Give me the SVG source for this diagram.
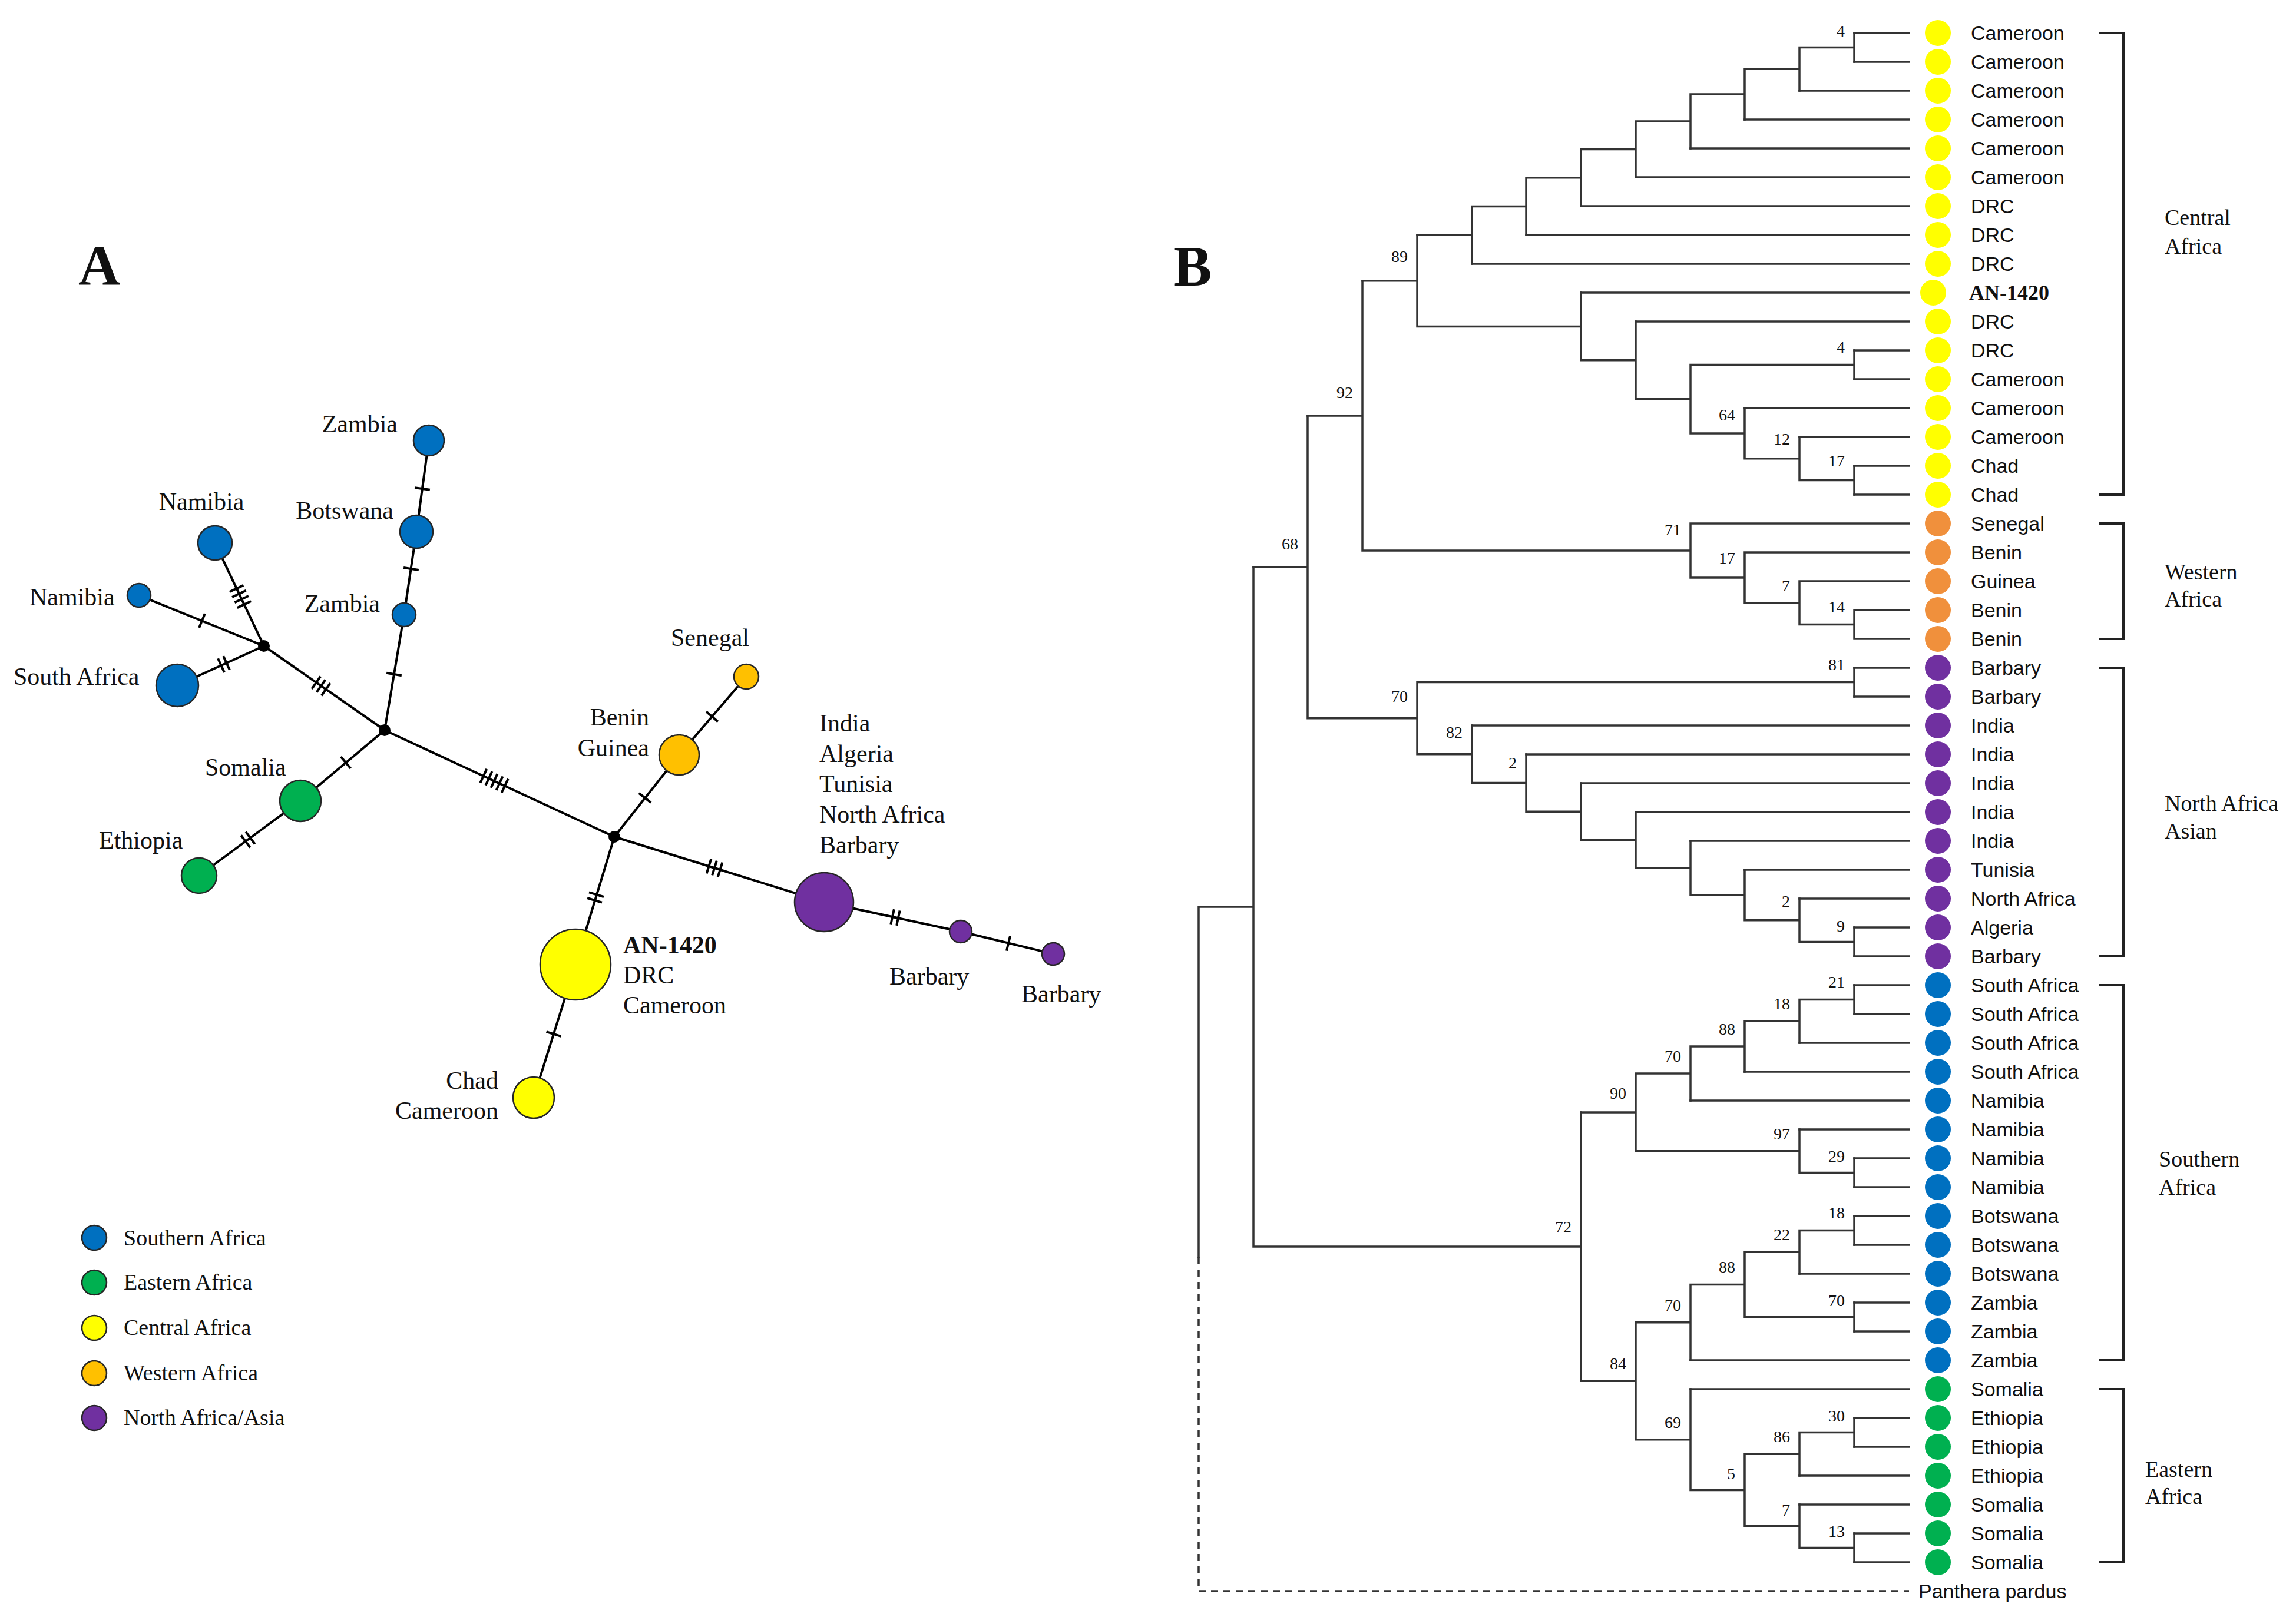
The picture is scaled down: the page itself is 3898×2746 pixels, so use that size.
<svg xmlns="http://www.w3.org/2000/svg" width="3898" height="2746" viewBox="0 0 3898 2746">
<defs>
<style>
.serif{font-family:"Liberation Serif","Times New Roman",serif;fill:#111}
.sans{font-family:"Liberation Sans",Arial,sans-serif;fill:#111}
.nl{font-size:42px}
.lg{font-size:38px}
.lf{font-size:34px}
.bs{font-size:28px;text-anchor:end}
.cl{font-size:38px}
.panel{font-size:98px;font-weight:bold}
.edge{stroke:#000;stroke-width:4;fill:none}
.tk line{stroke:#000;stroke-width:4}
.nc{stroke:#262626;stroke-width:2.5}
.br{stroke:#333;stroke-width:3.5;fill:none;stroke-linecap:square}
.brk{stroke:#222;stroke-width:4;fill:none}
.blue{fill:#0070C0}.green{fill:#00B050}.yellow{fill:#FFFF00}.orange{fill:#FFC000}.purple{fill:#7030A0}.torange{fill:#F0903C}
</style>
</defs>
<rect x="0" y="0" width="3898" height="2746" fill="#fff"/>

<!-- Panel labels -->
<text class="serif panel" x="133" y="483">A</text>
<text class="serif panel" x="1992" y="485">B</text>

<!-- ===== Panel A: network connectors ===== -->
<g id="network-edges">
<path class="edge" d="M728 748L707 903L686 1044L653 1240"/>
<path class="edge" d="M365 922L448 1097"/>
<path class="edge" d="M236 1011L448 1097"/>
<path class="edge" d="M301 1164L448 1097"/>
<path class="edge" d="M448 1097L653 1240"/>
<path class="edge" d="M338 1487L510 1360L653 1240"/>
<path class="edge" d="M653 1240L1043 1421"/>
<path class="edge" d="M1267 1149L1153 1282L1043 1421"/>
<path class="edge" d="M1043 1421L1399 1532L1631 1582L1788 1620"/>
<path class="edge" d="M1043 1421L977 1638L906 1864"/>
</g>
<g id="network-ticks" class="tk">
<g transform="translate(717 830) rotate(97.7)"><line x1="0" y1="-13" x2="0" y2="13"/></g>
<g transform="translate(698 966) rotate(98.5)"><line x1="0" y1="-13" x2="0" y2="13"/></g>
<g transform="translate(669 1145) rotate(99.6)"><line x1="0" y1="-13" x2="0" y2="13"/></g>
<g transform="translate(408 1013) rotate(64.6)"><line x1="-15" y1="-13" x2="-15" y2="13"/><line x1="-5" y1="-13" x2="-5" y2="13"/><line x1="5" y1="-13" x2="5" y2="13"/><line x1="15" y1="-13" x2="15" y2="13"/></g>
<g transform="translate(343 1054) rotate(22.1)"><line x1="0" y1="-13" x2="0" y2="13"/></g>
<g transform="translate(380 1128) rotate(-24.5)"><line x1="-5" y1="-13" x2="-5" y2="13"/><line x1="5" y1="-13" x2="5" y2="13"/></g>
<g transform="translate(545 1165) rotate(34.9)"><line x1="-10" y1="-13" x2="-10" y2="13"/><line x1="0" y1="-13" x2="0" y2="13"/><line x1="10" y1="-13" x2="10" y2="13"/></g>
<g transform="translate(587 1295) rotate(-40)"><line x1="0" y1="-13" x2="0" y2="13"/></g>
<g transform="translate(421 1426) rotate(-36.4)"><line x1="-5" y1="-13" x2="-5" y2="13"/><line x1="5" y1="-13" x2="5" y2="13"/></g>
<g transform="translate(839 1326) rotate(24.9)"><line x1="-20" y1="-13" x2="-20" y2="13"/><line x1="-10" y1="-13" x2="-10" y2="13"/><line x1="0" y1="-13" x2="0" y2="13"/><line x1="10" y1="-13" x2="10" y2="13"/><line x1="20" y1="-13" x2="20" y2="13"/></g>
<g transform="translate(1095 1355) rotate(128.4)"><line x1="0" y1="-13" x2="0" y2="13"/></g>
<g transform="translate(1209 1217) rotate(130.6)"><line x1="0" y1="-13" x2="0" y2="13"/></g>
<g transform="translate(1213 1474) rotate(17.3)"><line x1="-10" y1="-13" x2="-10" y2="13"/><line x1="0" y1="-13" x2="0" y2="13"/><line x1="10" y1="-13" x2="10" y2="13"/></g>
<g transform="translate(1011 1524) rotate(106.9)"><line x1="-5" y1="-13" x2="-5" y2="13"/><line x1="5" y1="-13" x2="5" y2="13"/></g>
<g transform="translate(940 1756) rotate(107.4)"><line x1="0" y1="-13" x2="0" y2="13"/></g>
<g transform="translate(1520 1558) rotate(12.2)"><line x1="-5" y1="-13" x2="-5" y2="13"/><line x1="5" y1="-13" x2="5" y2="13"/></g>
<g transform="translate(1712 1602) rotate(13.6)"><line x1="0" y1="-13" x2="0" y2="13"/></g>
</g>

<!-- ===== Panel A: network nodes ===== -->
<g id="n-junction1"><circle cx="448" cy="1097" r="10" fill="#000"/></g>
<g id="n-junction2"><circle cx="653" cy="1240" r="10" fill="#000"/></g>
<g id="n-junction3"><circle cx="1043" cy="1421" r="10" fill="#000"/></g>
<g id="n-zambia-top"><circle class="nc blue" cx="728" cy="748" r="26"/><text class="serif nl" x="675" y="734" text-anchor="end">Zambia</text></g>
<g id="n-botswana"><circle class="nc blue" cx="707" cy="903" r="28"/><text class="serif nl" x="668" y="881" text-anchor="end">Botswana</text></g>
<g id="n-zambia-mid"><circle class="nc blue" cx="686" cy="1044" r="20"/><text class="serif nl" x="645" y="1039" text-anchor="end">Zambia</text></g>
<g id="n-namibia-up"><circle class="nc blue" cx="365" cy="922" r="29"/><text class="serif nl" x="342" y="866" text-anchor="middle">Namibia</text></g>
<g id="n-namibia-left"><circle class="nc blue" cx="236" cy="1011" r="20"/><text class="serif nl" x="50" y="1028">Namibia</text></g>
<g id="n-south-africa"><circle class="nc blue" cx="301" cy="1164" r="36"/><text class="serif nl" x="23" y="1163">South Africa</text></g>
<g id="n-somalia"><circle class="nc green" cx="510" cy="1360" r="35"/><text class="serif nl" x="348" y="1317">Somalia</text></g>
<g id="n-ethiopia"><circle class="nc green" cx="338" cy="1487" r="30"/><text class="serif nl" x="168" y="1441">Ethiopia</text></g>
<g id="n-senegal"><circle class="nc orange" cx="1267" cy="1149" r="21"/><text class="serif nl" x="1139" y="1097">Senegal</text></g>
<g id="n-benin-guinea"><circle class="nc orange" cx="1153" cy="1282" r="34"/><text class="serif nl" x="1102" y="1232" text-anchor="end">Benin</text><text class="serif nl" x="1102" y="1284" text-anchor="end">Guinea</text></g>
<g id="n-northafrica"><circle class="nc purple" cx="1399" cy="1532" r="50"/>
<text class="serif nl" x="1391" y="1242">India</text><text class="serif nl" x="1391" y="1294">Algeria</text><text class="serif nl" x="1391" y="1345">Tunisia</text><text class="serif nl" x="1391" y="1397">North Africa</text><text class="serif nl" x="1391" y="1449">Barbary</text></g>
<g id="n-barbary1"><circle class="nc purple" cx="1631" cy="1582" r="19"/><text class="serif nl" x="1510" y="1672">Barbary</text></g>
<g id="n-barbary2"><circle class="nc purple" cx="1788" cy="1620" r="19"/><text class="serif nl" x="1734" y="1702">Barbary</text></g>
<g id="n-an1420"><circle class="nc yellow" cx="977" cy="1638" r="60"/><text class="serif nl" x="1058" y="1619" font-weight="bold">AN-1420</text><text class="serif nl" x="1058" y="1670">DRC</text><text class="serif nl" x="1058" y="1721">Cameroon</text></g>
<g id="n-chad"><circle class="nc yellow" cx="906" cy="1864" r="35"/><text class="serif nl" x="846" y="1849" text-anchor="end">Chad</text><text class="serif nl" x="846" y="1900" text-anchor="end">Cameroon</text></g>

<!-- Legend -->
<g id="legend">
<circle class="nc blue" cx="160" cy="2102" r="21"/><text class="serif lg" x="210" y="2115">Southern Africa</text>
<circle class="nc green" cx="160" cy="2178" r="21"/><text class="serif lg" x="210" y="2190">Eastern Africa</text>
<circle class="nc yellow" cx="160" cy="2255" r="21"/><text class="serif lg" x="210" y="2267">Central Africa</text>
<circle class="nc orange" cx="160" cy="2332" r="21"/><text class="serif lg" x="210" y="2344">Western Africa</text>
<circle class="nc purple" cx="160" cy="2408" r="21"/><text class="serif lg" x="210" y="2420">North Africa/Asia</text>
</g>

<!-- ===== Panel B: tree connectors ===== -->
<g id="tree-connectors" class="br">
<path d="M3148 56H3241M3148 105H3241M3055 154H3241M2962 203H3241M2870 252H3241M2777 301H3241M2684 350H3241M2591 399H3241M2499 448H3241M2684 497H3241M2777 546H3241M3148 595H3241M3148 644H3241M2962 693H3241M3055 742H3241M3148 791H3241M3148 840H3241"/>
<path d="M3148 56V105M3055 80.5H3148M3055 80.5V154M2962 117.25H3055M2962 117.25V203M2870 160.1H2962M2870 160.1V252M2777 206.1H2870M2777 206.1V301M2684 253.5H2777M2684 253.5V350M2591 301.8H2684M2591 301.8V399M2499 350.4H2591M2499 350.4V448M2406 399.2H2499"/>
<path d="M3148 595V644M2870 619.5H3148M3148 791V840M3055 815.5H3148M3055 742V815.5M2962 778.75H3055M2962 693V778.75M2870 735.9H2962M2870 619.5V735.9M2777 677.7H2870M2777 546V677.7M2684 611.8H2777M2684 497V611.8M2406 554.4H2684M2406 399.2V554.4M2313 476.8H2406"/>
<path d="M2870 889H3241M2962 938H3241M3055 987H3241M3148 1036H3241M3148 1085H3241M3148 1036V1085M3055 1060.5H3148M3055 987V1060.5M2962 1023.75H3055M2962 938V1023.75M2870 980.9H2962M2870 889V980.9M2313 934.9H2870M2313 476.8V934.9M2220 705.9H2313"/>
<path d="M3148 1134H3241M3148 1183H3241M2499 1232H3241M2591 1281H3241M2684 1330H3241M2777 1379H3241M2870 1428H3241M2962 1477H3241M3055 1526H3241M3148 1575H3241M3148 1624H3241"/>
<path d="M3148 1134V1183M2406 1158.5H3148M3148 1575V1624M3055 1599.5H3148M3055 1526V1599.5M2962 1562.75H3055M2962 1477V1562.75M2870 1519.9H2962M2870 1428V1519.9M2777 1474H2870M2777 1379V1474M2684 1426.5H2777M2684 1330V1426.5M2591 1378.3H2684M2591 1281V1378.3M2499 1329.6H2591M2499 1232V1329.6M2406 1280.8H2499M2406 1158.5V1280.8M2220 1219.7H2406M2220 705.9V1219.7M2128 962.8H2220"/>
<path d="M3148 1673H3241M3148 1722H3241M3055 1771H3241M2962 1820H3241M2870 1869H3241M3055 1918H3241M3148 1967H3241M3148 2016H3241M3148 2065H3241M3148 2114H3241M3055 2163H3241M3148 2212H3241M3148 2261H3241M2870 2310H3241"/>
<path d="M3148 1673V1722M3055 1697.5H3148M3055 1697.5V1771M2962 1734.25H3055M2962 1734.25V1820M2870 1777.1H2962M2870 1777.1V1869M2777 1823.1H2870M3148 1967V2016M3055 1991.5H3148M3055 1918V1991.5M2777 1954.75H3055M2777 1823.1V1954.75M2684 1888.9H2777"/>
<path d="M3148 2065V2114M3055 2089.5H3148M3055 2089.5V2163M2962 2126.25H3055M3148 2212V2261M2962 2236.5H3148M2962 2126.25V2236.5M2870 2181.4H2962M2870 2181.4V2310M2777 2245.7H2870"/>
<path d="M2870 2359H3241M3148 2408H3241M3148 2457H3241M3055 2506H3241M3055 2555H3241M3148 2604H3241M3148 2653H3241"/>
<path d="M3148 2408V2457M3055 2432.5H3148M3055 2432.5V2506M2962 2469.25H3055M3148 2604V2653M3055 2628.5H3148M3055 2555V2628.5M2962 2591.75H3055M2962 2469.25V2591.75M2870 2530.5H2962M2870 2359V2530.5M2777 2444.75H2870M2777 2245.7V2444.75M2684 2345.2H2777M2684 1888.9V2345.2M2128 2117H2684M2128 962.8V2117M2035 1539.9H2128M2035 1539.9V2135"/>
<path d="M2035 2135V2702H3241" stroke-dasharray="12 9" stroke-linecap="butt"/>
</g>

<!-- Support values -->
<g id="support-values" class="serif bs">
<text x="3132" y="62">4</text>
<text x="2390" y="445">89</text>
<text x="2297" y="676">92</text>
<text x="2204" y="933">68</text>
<text x="3132" y="599">4</text>
<text x="2946" y="714">64</text>
<text x="3039" y="755">12</text>
<text x="3132" y="792">17</text>
<text x="2854" y="909">71</text>
<text x="2946" y="957">17</text>
<text x="3039" y="1004">7</text>
<text x="3132" y="1040">14</text>
<text x="3132" y="1138">81</text>
<text x="2390" y="1192">70</text>
<text x="2483" y="1253">82</text>
<text x="2575" y="1305">2</text>
<text x="3039" y="1540">2</text>
<text x="3132" y="1582">9</text>
<text x="3132" y="1677">21</text>
<text x="3039" y="1714">18</text>
<text x="2946" y="1757">88</text>
<text x="2854" y="1803">70</text>
<text x="2761" y="1866">90</text>
<text x="3039" y="1935">97</text>
<text x="3132" y="1973">29</text>
<text x="2668" y="2093">72</text>
<text x="3132" y="2069">18</text>
<text x="3039" y="2106">22</text>
<text x="2946" y="2161">88</text>
<text x="3132" y="2218">70</text>
<text x="2854" y="2226">70</text>
<text x="2761" y="2325">84</text>
<text x="2854" y="2425">69</text>
<text x="3132" y="2414">30</text>
<text x="3039" y="2449">86</text>
<text x="2946" y="2512">5</text>
<text x="3039" y="2574">7</text>
<text x="3132" y="2610">13</text>
</g>

<!-- Leaves -->
<g id="leaves-central">
<g id="leaf-00"><circle class="yellow" cx="3290" cy="56" r="22"/><text class="sans lf" x="3346" y="68">Cameroon</text></g>
<g id="leaf-01"><circle class="yellow" cx="3290" cy="105" r="22"/><text class="sans lf" x="3346" y="117">Cameroon</text></g>
<g id="leaf-02"><circle class="yellow" cx="3290" cy="154" r="22"/><text class="sans lf" x="3346" y="166">Cameroon</text></g>
<g id="leaf-03"><circle class="yellow" cx="3290" cy="203" r="22"/><text class="sans lf" x="3346" y="215">Cameroon</text></g>
<g id="leaf-04"><circle class="yellow" cx="3290" cy="252" r="22"/><text class="sans lf" x="3346" y="264">Cameroon</text></g>
<g id="leaf-05"><circle class="yellow" cx="3290" cy="301" r="22"/><text class="sans lf" x="3346" y="313">Cameroon</text></g>
<g id="leaf-06"><circle class="yellow" cx="3290" cy="350" r="22"/><text class="sans lf" x="3346" y="362">DRC</text></g>
<g id="leaf-07"><circle class="yellow" cx="3290" cy="399" r="22"/><text class="sans lf" x="3346" y="411">DRC</text></g>
<g id="leaf-08"><circle class="yellow" cx="3290" cy="448" r="22"/><text class="sans lf" x="3346" y="460">DRC</text></g>
<g id="leaf-09"><circle class="yellow" cx="3282" cy="497" r="22"/><text class="serif" font-size="36" font-weight="bold" x="3343" y="509">AN-1420</text></g>
<g id="leaf-10"><circle class="yellow" cx="3290" cy="546" r="22"/><text class="sans lf" x="3346" y="558">DRC</text></g>
<g id="leaf-11"><circle class="yellow" cx="3290" cy="595" r="22"/><text class="sans lf" x="3346" y="607">DRC</text></g>
<g id="leaf-12"><circle class="yellow" cx="3290" cy="644" r="22"/><text class="sans lf" x="3346" y="656">Cameroon</text></g>
<g id="leaf-13"><circle class="yellow" cx="3290" cy="693" r="22"/><text class="sans lf" x="3346" y="705">Cameroon</text></g>
<g id="leaf-14"><circle class="yellow" cx="3290" cy="742" r="22"/><text class="sans lf" x="3346" y="754">Cameroon</text></g>
<g id="leaf-15"><circle class="yellow" cx="3290" cy="791" r="22"/><text class="sans lf" x="3346" y="803">Chad</text></g>
<g id="leaf-16"><circle class="yellow" cx="3290" cy="840" r="22"/><text class="sans lf" x="3346" y="852">Chad</text></g>
</g>
<g id="leaves-western">
<g id="leaf-17"><circle class="torange" cx="3290" cy="889" r="22"/><text class="sans lf" x="3346" y="901">Senegal</text></g>
<g id="leaf-18"><circle class="torange" cx="3290" cy="938" r="22"/><text class="sans lf" x="3346" y="950">Benin</text></g>
<g id="leaf-19"><circle class="torange" cx="3290" cy="987" r="22"/><text class="sans lf" x="3346" y="999">Guinea</text></g>
<g id="leaf-20"><circle class="torange" cx="3290" cy="1036" r="22"/><text class="sans lf" x="3346" y="1048">Benin</text></g>
<g id="leaf-21"><circle class="torange" cx="3290" cy="1085" r="22"/><text class="sans lf" x="3346" y="1097">Benin</text></g>
</g>
<g id="leaves-northafrica">
<g id="leaf-22"><circle class="purple" cx="3290" cy="1134" r="22"/><text class="sans lf" x="3346" y="1146">Barbary</text></g>
<g id="leaf-23"><circle class="purple" cx="3290" cy="1183" r="22"/><text class="sans lf" x="3346" y="1195">Barbary</text></g>
<g id="leaf-24"><circle class="purple" cx="3290" cy="1232" r="22"/><text class="sans lf" x="3346" y="1244">India</text></g>
<g id="leaf-25"><circle class="purple" cx="3290" cy="1281" r="22"/><text class="sans lf" x="3346" y="1293">India</text></g>
<g id="leaf-26"><circle class="purple" cx="3290" cy="1330" r="22"/><text class="sans lf" x="3346" y="1342">India</text></g>
<g id="leaf-27"><circle class="purple" cx="3290" cy="1379" r="22"/><text class="sans lf" x="3346" y="1391">India</text></g>
<g id="leaf-28"><circle class="purple" cx="3290" cy="1428" r="22"/><text class="sans lf" x="3346" y="1440">India</text></g>
<g id="leaf-29"><circle class="purple" cx="3290" cy="1477" r="22"/><text class="sans lf" x="3346" y="1489">Tunisia</text></g>
<g id="leaf-30"><circle class="purple" cx="3290" cy="1526" r="22"/><text class="sans lf" x="3346" y="1538">North Africa</text></g>
<g id="leaf-31"><circle class="purple" cx="3290" cy="1575" r="22"/><text class="sans lf" x="3346" y="1587">Algeria</text></g>
<g id="leaf-32"><circle class="purple" cx="3290" cy="1624" r="22"/><text class="sans lf" x="3346" y="1636">Barbary</text></g>
</g>
<g id="leaves-southern">
<g id="leaf-33"><circle class="blue" cx="3290" cy="1673" r="22"/><text class="sans lf" x="3346" y="1685">South Africa</text></g>
<g id="leaf-34"><circle class="blue" cx="3290" cy="1722" r="22"/><text class="sans lf" x="3346" y="1734">South Africa</text></g>
<g id="leaf-35"><circle class="blue" cx="3290" cy="1771" r="22"/><text class="sans lf" x="3346" y="1783">South Africa</text></g>
<g id="leaf-36"><circle class="blue" cx="3290" cy="1820" r="22"/><text class="sans lf" x="3346" y="1832">South Africa</text></g>
<g id="leaf-37"><circle class="blue" cx="3290" cy="1869" r="22"/><text class="sans lf" x="3346" y="1881">Namibia</text></g>
<g id="leaf-38"><circle class="blue" cx="3290" cy="1918" r="22"/><text class="sans lf" x="3346" y="1930">Namibia</text></g>
<g id="leaf-39"><circle class="blue" cx="3290" cy="1967" r="22"/><text class="sans lf" x="3346" y="1979">Namibia</text></g>
<g id="leaf-40"><circle class="blue" cx="3290" cy="2016" r="22"/><text class="sans lf" x="3346" y="2028">Namibia</text></g>
<g id="leaf-41"><circle class="blue" cx="3290" cy="2065" r="22"/><text class="sans lf" x="3346" y="2077">Botswana</text></g>
<g id="leaf-42"><circle class="blue" cx="3290" cy="2114" r="22"/><text class="sans lf" x="3346" y="2126">Botswana</text></g>
<g id="leaf-43"><circle class="blue" cx="3290" cy="2163" r="22"/><text class="sans lf" x="3346" y="2175">Botswana</text></g>
<g id="leaf-44"><circle class="blue" cx="3290" cy="2212" r="22"/><text class="sans lf" x="3346" y="2224">Zambia</text></g>
<g id="leaf-45"><circle class="blue" cx="3290" cy="2261" r="22"/><text class="sans lf" x="3346" y="2273">Zambia</text></g>
<g id="leaf-46"><circle class="blue" cx="3290" cy="2310" r="22"/><text class="sans lf" x="3346" y="2322">Zambia</text></g>
</g>
<g id="leaves-eastern">
<g id="leaf-47"><circle class="green" cx="3290" cy="2359" r="22"/><text class="sans lf" x="3346" y="2371">Somalia</text></g>
<g id="leaf-48"><circle class="green" cx="3290" cy="2408" r="22"/><text class="sans lf" x="3346" y="2420">Ethiopia</text></g>
<g id="leaf-49"><circle class="green" cx="3290" cy="2457" r="22"/><text class="sans lf" x="3346" y="2469">Ethiopia</text></g>
<g id="leaf-50"><circle class="green" cx="3290" cy="2506" r="22"/><text class="sans lf" x="3346" y="2518">Ethiopia</text></g>
<g id="leaf-51"><circle class="green" cx="3290" cy="2555" r="22"/><text class="sans lf" x="3346" y="2567">Somalia</text></g>
<g id="leaf-52"><circle class="green" cx="3290" cy="2604" r="22"/><text class="sans lf" x="3346" y="2616">Somalia</text></g>
<g id="leaf-53"><circle class="green" cx="3290" cy="2653" r="22"/><text class="sans lf" x="3346" y="2665">Somalia</text></g>
</g>
<g id="outgroup"><text class="sans lf" x="3257" y="2714">Panthera pardus</text></g>

<!-- Clade brackets -->
<g id="brackets" class="brk">
<path d="M3563 56H3605V840H3563"/>
<path d="M3563 889H3605V1085H3563"/>
<path d="M3563 1134H3605V1624H3563"/>
<path d="M3563 1673H3605V2310H3563"/>
<path d="M3563 2359H3605V2653H3563"/>
</g>
<g id="clade-labels" class="serif cl">
<text x="3675" y="382">Central</text><text x="3675" y="431">Africa</text>
<text x="3675" y="984">Western</text><text x="3675" y="1030">Africa</text>
<text x="3675" y="1377">North Africa</text><text x="3675" y="1424">Asian</text>
<text x="3665" y="1981">Southern</text><text x="3665" y="2029">Africa</text>
<text x="3642" y="2508">Eastern</text><text x="3642" y="2554">Africa</text>
</g>
</svg>
